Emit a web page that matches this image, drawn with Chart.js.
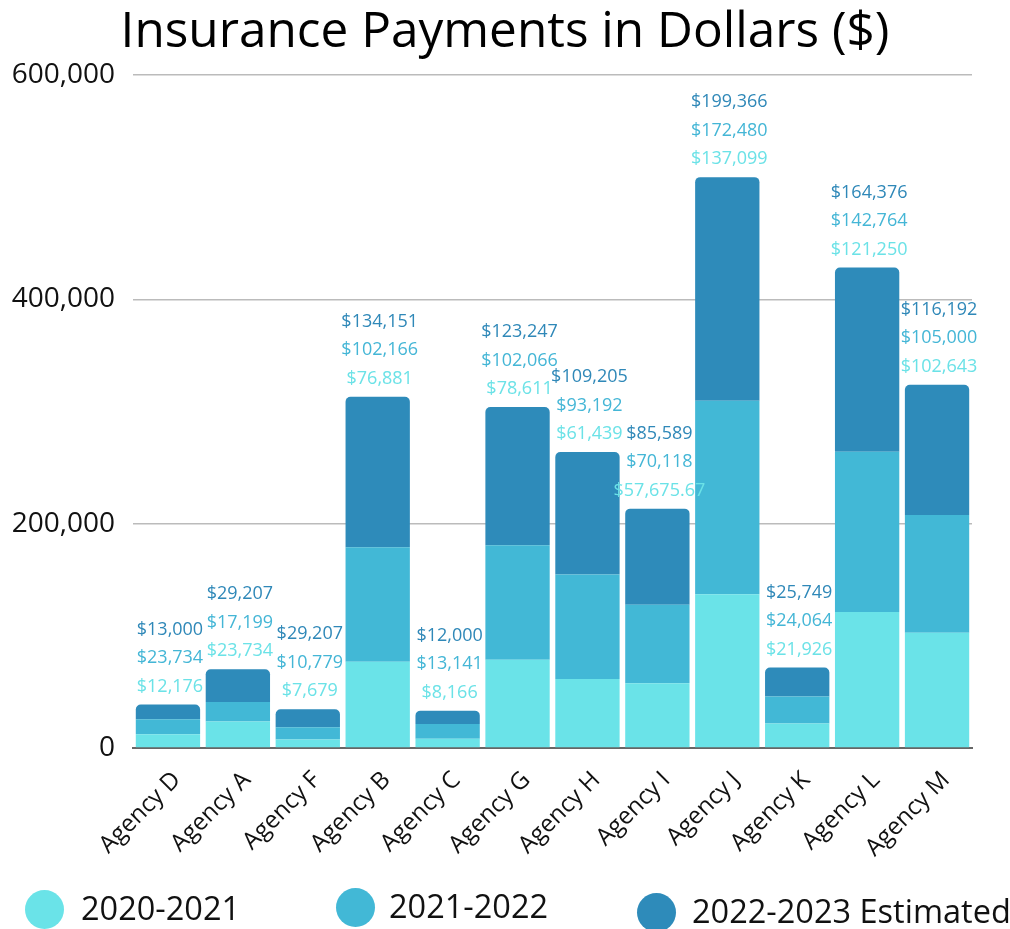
<!DOCTYPE html>
<html>
<head>
<meta charset="utf-8">
<script src="https://cdn.jsdelivr.net/npm/chart.js@4.4.1/dist/chart.umd.min.js"></script>
<style>
  html, body { margin: 0; padding: 0; background: #fff; }
  #wrap { position: relative; width: 1010px; height: 929px; overflow: hidden; }
  canvas { position: absolute; left: 0; top: 0; }
  .lg-dot { position: absolute; width: 39px; height: 39px; border-radius: 50%; }
  .lg-txt { position: absolute; font-family: "Open Sans", sans-serif; font-size: 32.5px; line-height: 32px; color: #111; white-space: nowrap; }
</style>
</head>
<body>
<div id="wrap">
  <canvas id="c" width="1010" height="929"></canvas>
  <div class="lg-dot" style="left:25px; top:890px; background:#6AE3E8"></div>
  <div class="lg-txt" style="left:81px; top:892px;">2020-2021</div>
  <div class="lg-dot" style="left:336px; top:888px; background:#42B8D6"></div>
  <div class="lg-txt" style="left:389px; top:890px;">2021-2022</div>
  <div class="lg-dot" style="left:637px; top:893px; background:#2E8BBA"></div>
  <div class="lg-txt" style="left:692px; top:895px;">2022-2023 Estimated</div>
</div>
<script>
const categories = ["Agency D","Agency A","Agency F","Agency B","Agency C","Agency G","Agency H","Agency I","Agency J","Agency K","Agency L","Agency M"];
const seriesNames = ["2020-2021","2021-2022","2022-2023 Estimated"];

// bar heights as drawn in the reference
const values2020 = [12176, 23734, 7679, 76881, 8166, 78611, 61439, 57675.67, 137099, 21926, 121250, 102643];
const values2021 = [13500, 17199, 10779, 102166, 13141, 102066, 93192, 70118, 172480, 24064, 142764, 105000];
const values2022 = [13000, 29207, 16000, 134151, 12000, 123247, 109205, 85589, 199366, 25749, 164376, 116192];

// value labels as printed above each bar
const labels2020 = ["$12,176","$23,734","$7,679","$76,881","$8,166","$78,611","$61,439","$57,675.67","$137,099","$21,926","$121,250","$102,643"];
const labels2021 = ["$23,734","$17,199","$10,779","$102,166","$13,141","$102,066","$93,192","$70,118","$172,480","$24,064","$142,764","$105,000"];
const labels2022 = ["$13,000","$29,207","$29,207","$134,151","$12,000","$123,247","$109,205","$85,589","$199,366","$25,749","$164,376","$116,192"];

const yTicks = [0, 200000, 400000, 600000];

const colors = ["#6AE3E8", "#42B8D6", "#2E8BBA"];
const labelColors = ["#6BE2E7", "#44B6D6", "#2F88B8"];

const valueLabelPlugin = {
  id: "valueLabels",
  afterDatasetsDraw(chart) {
    const ctx = chart.ctx;
    const topMeta = chart.getDatasetMeta(2);
    const sets = [labels2020, labels2021, labels2022];
    ctx.save();
    ctx.font = '18px "Open Sans", sans-serif';
    ctx.textAlign = "center";
    ctx.textBaseline = "middle";
    topMeta.data.forEach((bar, i) => {
      const x = bar.x + 2;
      const top = bar.y;
      for (let k = 0; k < 3; k++) {
        ctx.fillStyle = labelColors[k];
        ctx.fillText(sets[k][i], x, top - 18 - k * 28.5);
      }
    });
    ctx.restore();
  }
};

new Chart(document.getElementById("c"), {
  type: "bar",
  data: {
    labels: categories,
    datasets: [
      { label: seriesNames[0], data: values2020, backgroundColor: colors[0], borderRadius: 5, borderSkipped: "start" },
      { label: seriesNames[1], data: values2021, backgroundColor: colors[1], borderRadius: 5, borderSkipped: "start" },
      { label: seriesNames[2], data: values2022, backgroundColor: colors[2], borderRadius: 5, borderSkipped: "start" }
    ]
  },
  options: {
    responsive: false,
    devicePixelRatio: 1,
    animation: false,
    datasets: { bar: { categoryPercentage: 1, barPercentage: 0.92 } },
    layout: { padding: { left: 0, right: 0, top: 0, bottom: 69 } },
    plugins: {
      legend: { display: false },
      tooltip: { enabled: false },
      title: {
        display: true,
        text: "Insurance Payments in Dollars ($)",
        color: "#000",
        font: { family: "'Open Sans', sans-serif", size: 49.5, weight: "normal", lineHeight: 1.2 },
        padding: { top: 3, bottom: 12.6 }
      }
    },
    scales: {
      x: {
        stacked: true,
        grid: { display: false, drawTicks: false },
        border: { display: true, color: "#666", width: 2 },
        ticks: {
          color: "#111",
          font: { family: "'Open Sans', sans-serif", size: 24 },
          maxRotation: 45, minRotation: 45, padding: 18, labelOffset: 9, autoSkip: false
        },
        afterFit(scale) { scale.height = 112; }
      },
      y: {
        stacked: true,
        min: 0, max: 600000,
        afterBuildTicks(scale) { scale.ticks = yTicks.map(v => ({ value: v })); },
        grid: { color: "#BBBBBB", lineWidth: 1.5, drawTicks: false },
        border: { display: false },
        ticks: {
          color: "#111",
          padding: 18,
          font: { family: "'Open Sans', sans-serif", size: 28 },
          callback: v => v.toLocaleString("en-US")
        },
        afterFit(scale) { scale.width = 133; }
      },
      yRight: {
        position: "right",
        min: 0, max: 600000,
        grid: { display: false, drawTicks: false },
        border: { display: false },
        ticks: { display: false },
        afterFit(scale) { scale.width = 38; }
      }
    }
  },
  plugins: [valueLabelPlugin]
});
</script>
</body>
</html>
